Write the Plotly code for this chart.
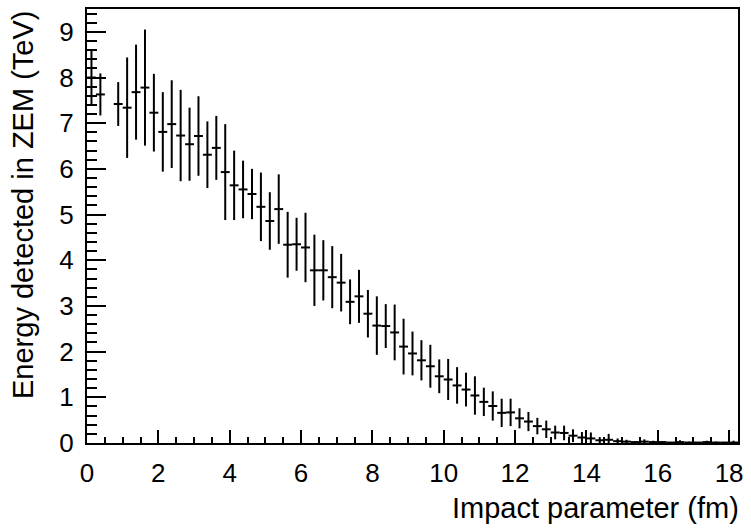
import plotly.graph_objects as go

# Profile of ZEM energy vs impact parameter: 0.25 fm bins from 0 to 18.25 fm
bin_centers = [
    0.125, 0.375, 0.625, 0.875, 1.125, 1.375, 1.625, 1.875, 2.125, 2.375,
    2.625, 2.875, 3.125, 3.375, 3.625, 3.875, 4.125, 4.375, 4.625, 4.875,
    5.125, 5.375, 5.625, 5.875, 6.125, 6.375, 6.625, 6.875, 7.125, 7.375,
    7.625, 7.875, 8.125, 8.375, 8.625, 8.875, 9.125, 9.375, 9.625, 9.875,
    10.125, 10.375, 10.625, 10.875, 11.125, 11.375, 11.625, 11.875, 12.125, 12.375,
    12.625, 12.875, 13.125, 13.375, 13.625, 13.875, 14.125, 14.375, 14.625, 14.875,
    15.125, 15.375, 15.625, 15.875, 16.125, 16.375, 16.625, 16.875, 17.125, 17.375,
    17.625, 17.875, 18.125,
]
half_bin_width = 0.125

# Mean energy in each bin (TeV); None marks an empty bin
mean_energy = [
    8.00, 7.63, None, 7.42, 7.34, 7.68, 7.78, 7.23, 6.81, 6.98,
    6.73, 6.54, 6.72, 6.31, 6.46, 5.93, 5.64, 5.55, 5.45, 5.17,
    4.86, 5.12, 4.34, 4.35, 4.28, 3.78, 3.78, 3.63, 3.51, 3.09,
    3.21, 2.83, 2.57, 2.56, 2.42, 2.11, 1.96, 1.81, 1.68, 1.46,
    1.39, 1.26, 1.17, 1.04, 0.90, 0.81, 0.66, 0.67, 0.54, 0.47,
    0.37, 0.30, 0.23, 0.22, 0.16, 0.12, 0.10, 0.06, 0.07, 0.04,
    0.03, 0.02, 0.03, 0.02, 0.02, 0.01, 0.02, 0.01, 0.01, 0.02,
    0.01, 0.01, 0.01,
]

# Uncertainty on the mean in each bin (TeV)
energy_error = [
    0.58, 0.46, None, 0.48, 1.10, 1.04, 1.27, 0.85, 0.87, 0.96,
    1.00, 0.80, 0.87, 0.73, 0.70, 1.05, 0.76, 0.63, 0.55, 0.75,
    0.63, 0.76, 0.72, 0.58, 0.76, 0.78, 0.66, 0.68, 0.63, 0.49,
    0.58, 0.52, 0.64, 0.48, 0.61, 0.61, 0.48, 0.44, 0.47, 0.37,
    0.45, 0.40, 0.37, 0.42, 0.31, 0.32, 0.31, 0.30, 0.22, 0.21,
    0.18, 0.19, 0.15, 0.16, 0.14, 0.12, 0.13, 0.07, 0.13, 0.06,
    0.04, 0.02, 0.05, 0.03, 0.02, 0.01, 0.04, 0.02, 0.01, 0.03,
    0.02, 0.01, 0.04,
]

x_tick_values = [0, 2, 4, 6, 8, 10, 12, 14, 16, 18]
x_tick_labels = ["0", "2", "4", "6", "8", "10", "12", "14", "16", "18"]
y_tick_values = [0, 1, 2, 3, 4, 5, 6, 7, 8, 9]
y_tick_labels = ["0", "1", "2", "3", "4", "5", "6", "7", "8", "9"]

x_title = "Impact parameter (fm)"
y_title = "Energy detected in ZEM (TeV)"

# drop empty bins
pts = [(x, y, e) for x, y, e in zip(bin_centers, mean_energy, energy_error) if y is not None]
xs = [p[0] for p in pts]
ys = [p[1] for p in pts]
es = [p[2] for p in pts]

W, H = 751, 529
ML, MR, MT, MB = 87, 13, 7, 86
PW, PH = W - ML - MR, H - MT - MB


def px_to_paper_x(px):
    return (px - ML) / PW


def px_to_paper_y(py):
    return (H - MB - py) / PH


FONT = "Liberation Sans, Arial, Helvetica, sans-serif"

fig = go.Figure()
fig.add_trace(go.Scatter(
    x=xs, y=ys,
    mode="markers",
    marker=dict(size=2, color="rgba(0,0,0,0)", line=dict(width=0)),
    error_x=dict(type="data", array=[half_bin_width] * len(xs), symmetric=True,
                 width=0, thickness=2, color="black"),
    error_y=dict(type="data", array=es, symmetric=True,
                 width=0, thickness=2, color="black"),
    hoverinfo="x+y",
    showlegend=False,
    cliponaxis=True,
))

axis_common = dict(
    showgrid=False, zeroline=False,
    showline=True, linecolor="black", linewidth=2, mirror=True,
    ticks="inside", tickcolor="black", tickwidth=1.5,
    tickfont=dict(family=FONT, size=26, color="black"),
    ticklabelstandoff=6,
)

fig.update_xaxes(
    range=[0, 18.25],
    tickvals=x_tick_values, ticktext=x_tick_labels,
    ticklen=13,
    minor=dict(dtick=0.5, tick0=0, ticks="inside", ticklen=6.5,
               tickcolor="black", tickwidth=1.5),
    **axis_common,
)
fig.update_yaxes(
    range=[0, 9.5],
    tickvals=y_tick_values, ticktext=y_tick_labels,
    ticklen=19,
    minor=dict(dtick=0.2, tick0=0, ticks="inside", ticklen=9.5,
               tickcolor="black", tickwidth=1.5),
    **axis_common,
)

fig.add_annotation(
    text=x_title, xref="paper", yref="paper",
    x=px_to_paper_x(741), y=px_to_paper_y(508),
    xanchor="right", yanchor="middle", showarrow=False,
    font=dict(family=FONT, size=29, color="black"),
)
fig.add_annotation(
    text=y_title, xref="paper", yref="paper",
    x=px_to_paper_x(23), y=px_to_paper_y(7),
    xanchor="center", yanchor="top", textangle=-90, showarrow=False,
    font=dict(family=FONT, size=29, color="black"),
)

fig.update_layout(
    width=W, height=H,
    margin=dict(l=ML, r=MR, t=MT, b=MB, pad=0),
    paper_bgcolor="white", plot_bgcolor="white",
)

fig.write_html("out.html")
